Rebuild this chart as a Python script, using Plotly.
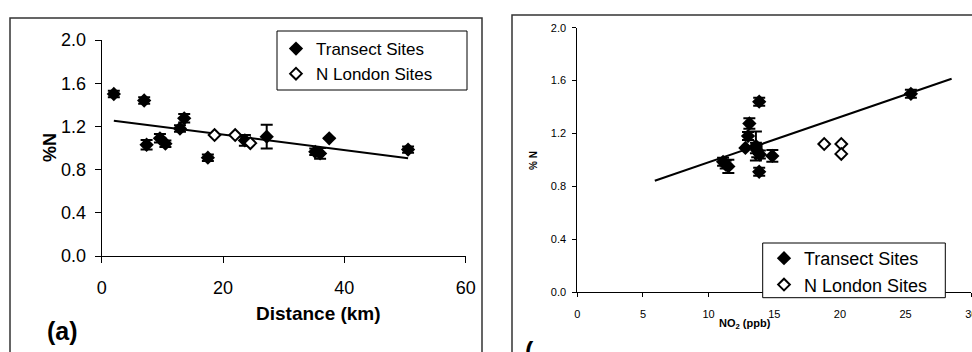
import plotly.graph_objects as go

# ---------------- data ----------------
# Panel (a): %N vs distance
dist_km = [2.0, 7.0, 7.4, 9.6, 10.5, 12.9, 13.6, 17.5, 23.6, 27.2, 35.2, 36.0, 37.5, 50.5]
transect_pctN = [1.50, 1.44, 1.03, 1.09, 1.04, 1.18, 1.275, 0.91, 1.07, 1.105, 0.965, 0.95, 1.09, 0.985]
transect_err = [0.03, 0.03, 0.045, 0.04, 0.03, 0.03, 0.04, 0.03, 0.05, 0.11, 0.03, 0.05, 0.0, 0.03]
london_dist_km = [18.6, 22.0, 24.5]
london_pctN = [1.12, 1.12, 1.045]

# Panel (b): %N vs NO2
transect_no2 = [25.4, 13.85, 14.85, 13.6, 13.9, 13.0, 13.1, 13.85, 13.7, 13.6, 11.3, 11.5, 12.8, 11.1]
london_no2 = [18.8, 20.1, 20.1]

# regression lines (end points)
fit_dist_x = [2.0, 50.5]
fit_dist_y = [1.253, 0.905]
fit_no2_x = [5.9, 28.5]
fit_no2_y = [0.842, 1.614]

x_ticks_a = [0, 20, 40, 60]
x_ticks_b = [0, 5, 10, 15, 20, 25, 30]
y_ticks = [0.0, 0.4, 0.8, 1.2, 1.6, 2.0]

W, H = 972, 352
FONT = "Liberation Sans, Arial, sans-serif"


def px(x):
    return x / W


def py(y):
    return (H - y) / H


fig = go.Figure()

# ---- panel (a) ----
fig.add_trace(go.Scatter(
    x=fit_dist_x, y=fit_dist_y, mode="lines", line=dict(color="black", width=2),
    showlegend=False, xaxis="x", yaxis="y", hoverinfo="skip"))
fig.add_trace(go.Scatter(
    x=dist_km, y=transect_pctN, mode="markers", name="Transect Sites",
    marker=dict(symbol="diamond", size=11, color="black"),
    error_y=dict(type="data", array=transect_err, color="black", thickness=2, width=6),
    xaxis="x", yaxis="y", legend="legend"))
fig.add_trace(go.Scatter(
    x=london_dist_km, y=london_pctN, mode="markers", name="N London Sites",
    marker=dict(symbol="diamond", size=9, color="white", line=dict(color="black", width=2)),
    xaxis="x", yaxis="y", legend="legend"))

# ---- panel (b) ----
fig.add_trace(go.Scatter(
    x=fit_no2_x, y=fit_no2_y, mode="lines", line=dict(color="black", width=2),
    showlegend=False, xaxis="x2", yaxis="y2", hoverinfo="skip"))
fig.add_trace(go.Scatter(
    x=transect_no2, y=transect_pctN, mode="markers", name="Transect Sites",
    marker=dict(symbol="diamond", size=11, color="black"),
    error_y=dict(type="data", array=transect_err, color="black", thickness=2, width=6),
    xaxis="x2", yaxis="y2", legend="legend2"))
fig.add_trace(go.Scatter(
    x=london_no2, y=london_pctN, mode="markers", name="N London Sites",
    marker=dict(symbol="diamond", size=9, color="white", line=dict(color="black", width=2)),
    xaxis="x2", yaxis="y2", legend="legend2"))

axis_common = dict(showline=True, linecolor="black", linewidth=1, ticks="outside",
                   tickcolor="black", showgrid=False, zeroline=False, automargin=False,
                   ticklabeloverflow="allow")

fig.update_layout(
    width=W, height=H, margin=dict(l=0, r=0, t=0, b=0, autoexpand=False),
    paper_bgcolor="white", plot_bgcolor="white",
    font=dict(family=FONT, color="black"),
    xaxis=dict(domain=[px(101.7), px(465.7)], range=[0, 60], tickvals=x_ticks_a,
               ticklen=6, tickfont=dict(size=18), anchor="y", ticklabelstandoff=9,
               **axis_common),
    yaxis=dict(domain=[py(256), py(40)], range=[0, 2], tickvals=y_ticks, tickformat=".1f",
               ticklen=6, tickfont=dict(size=18), anchor="x", ticklabelstandoff=5,
               **axis_common),
    xaxis2=dict(domain=[px(577.3), px(971.3)], range=[0, 30], tickvals=x_ticks_b,
                ticklen=4, tickfont=dict(size=11), anchor="y2", ticklabelstandoff=8,
                **axis_common),
    yaxis2=dict(domain=[py(292), py(27.7)], range=[0, 2], tickvals=y_ticks, tickformat=".1f",
                ticklen=4, tickfont=dict(size=11), anchor="x2", ticklabelstandoff=4,
                **axis_common),
    legend=dict(x=px(276), y=py(31), xanchor="left", yanchor="top",
                bgcolor="rgba(0,0,0,0)", borderwidth=0, font=dict(size=17),
                traceorder="normal", itemwidth=30),
    legend2=dict(x=px(764), y=py(240), xanchor="left", yanchor="top",
                 bgcolor="rgba(0,0,0,0)", borderwidth=0, font=dict(size=18),
                 traceorder="normal", itemwidth=30),
    shapes=[
        # panel frames
        dict(type="rect", xref="paper", yref="paper", x0=px(10), x1=px(482),
             y0=py(400), y1=py(18), line=dict(color="#333333", width=1.5)),
        dict(type="rect", xref="paper", yref="paper", x0=px(512), x1=px(1000),
             y0=py(400), y1=py(15), line=dict(color="#333333", width=1.5)),
        # legend boxes
        dict(type="rect", xref="paper", yref="paper", x0=px(277), x1=px(467),
             y0=py(90), y1=py(31), line=dict(color="black", width=1), fillcolor="white",
             layer="above"),
        dict(type="rect", xref="paper", yref="paper", x0=px(762.7), x1=px(945.3),
             y0=py(297.7), y1=py(243), line=dict(color="black", width=1), fillcolor="white",
             layer="above"),
    ],
    annotations=[
        dict(text="<b>%N</b>", xref="paper", yref="paper", x=px(38), y=py(148),
             textangle=-90, showarrow=False, font=dict(size=18)),
        dict(text="<b>Distance (km)</b>", xref="paper", yref="paper", x=px(254), y=py(326),
             showarrow=False, font=dict(size=19)),
        dict(text="<b>(a)</b>", xref="paper", yref="paper", x=px(45), y=py(347),
             showarrow=False, font=dict(size=25)),
        dict(text="<b>% N</b>", xref="paper", yref="paper", x=px(533), y=py(161),
             textangle=-90, showarrow=False, font=dict(size=10)),
        dict(text="<b>NO<sub>2</sub> (ppb)</b>", xref="paper", yref="paper", x=px(773),
             y=py(333), showarrow=False, font=dict(size=11)),
        dict(text="<b>(</b>", xref="paper", yref="paper", x=px(529), y=py(367),
             showarrow=False, font=dict(size=25)),
    ],
)

fig.write_html("out.html", config={"displayModeBar": False, "staticPlot": True},
               post_script="document.body.style.margin='0px';document.body.style.overflow='hidden';")
